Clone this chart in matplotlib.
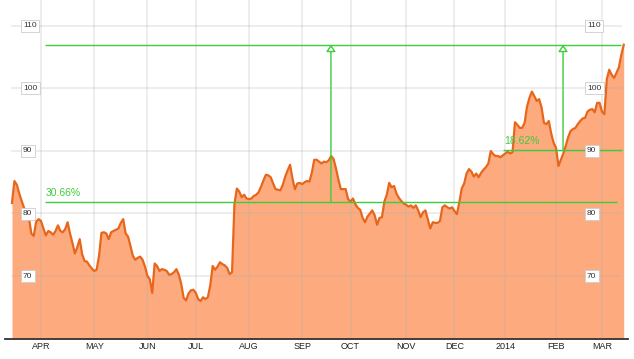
import matplotlib
matplotlib.use("Agg")
import matplotlib.pyplot as plt

plt.rcParams['font.family'] = ['Liberation Sans', 'DejaVu Sans']

# daily closes, one per trading day, mid-Mar 2013 -> mid-Mar 2014
prices = [
    81.7, 85.2, 84.6, 83.2, 82.0, 80.9, 80.0, 79.3, 76.8, 76.4,
    78.7, 79.1, 78.8, 77.6, 76.5, 77.2, 77.0, 76.6, 77.2, 78.1,
    77.2, 77.0, 77.5, 78.6, 76.8, 75.3, 73.6, 74.6, 75.9, 73.5,
    72.4, 72.3, 71.7, 71.2, 70.8, 71.0, 73.2, 76.9, 77.0, 76.8,
    75.9, 77.0, 77.2, 77.4, 77.6, 78.5, 79.1, 76.8, 76.3, 74.8,
    73.2, 72.6, 72.9, 73.1, 72.6, 71.5, 70.0, 69.5, 67.3, 72.0,
    71.6, 70.8, 71.1, 71.0, 70.8, 70.2, 70.3, 70.6, 71.1, 70.2,
    68.7, 66.5, 66.1, 67.2, 67.7, 67.8, 67.3, 66.3, 66.0, 66.6,
    66.3, 66.6, 68.5, 71.6, 71.0, 71.5, 72.2, 71.9, 71.7, 71.3,
    70.3, 70.6, 81.5, 84.0, 83.5, 82.6, 83.0, 82.4, 82.3, 82.4,
    82.8, 83.0, 83.4, 84.3, 85.3, 86.2, 86.1, 85.8, 84.8, 83.9,
    83.8, 83.7, 84.6, 85.9, 86.9, 87.8, 85.6, 83.9, 84.8, 84.9,
    84.7, 85.0, 85.2, 85.1, 86.5, 88.6, 88.6, 88.3, 88.0, 88.3,
    88.2, 88.5, 89.2, 88.7, 87.2, 85.4, 83.9, 83.9, 83.9, 82.3,
    81.9, 82.4, 81.5, 80.9, 80.6, 79.3, 78.6, 79.5, 80.0, 80.5,
    79.7, 78.2, 79.3, 79.4, 81.9, 83.0, 84.9, 84.2, 84.4, 83.2,
    82.5, 82.0, 81.6, 81.4, 81.1, 81.3, 80.9, 81.3, 80.5, 79.4,
    80.2, 80.5, 79.0, 77.6, 78.6, 78.5, 78.5, 78.8, 81.0, 81.3,
    81.0, 80.8, 81.0, 80.4, 79.9, 81.8, 84.0, 84.8, 86.4, 87.1,
    86.7, 85.9, 86.4, 85.8, 86.5, 87.0, 87.4, 88.0, 90.0, 89.5,
    89.2, 89.2, 89.0, 89.3, 89.6, 89.9, 89.6, 89.8, 94.6, 94.2,
    93.7, 93.7, 94.5, 97.1, 98.5, 99.5, 98.8, 98.0, 98.3, 97.0,
    94.5, 94.3, 94.8, 92.8, 91.3, 90.5, 87.6, 88.6, 89.6, 90.8,
    92.2, 93.2, 93.5, 93.7, 94.3, 94.8, 95.2, 95.3, 96.3, 96.6,
    96.7, 96.2, 97.7, 97.7, 96.3, 95.9, 101.5, 103.0, 102.2, 101.7,
    102.5, 103.4, 105.4, 107.0,
]
days = list(range(len(prices)))

month_labels = ['APR', 'MAY', 'JUN', 'JUL', 'AUG', 'SEP', 'OCT', 'NOV', 'DEC', '2014', 'FEB', 'MAR']
month_start_idx = [12, 34, 56, 76, 98, 120, 140, 163, 183, 204, 225, 244]
y_ticks = [70, 80, 90, 100, 110]

# gain markers: (low level, x of arrow, x where low line starts, x where it ends, label)
gains = [
    (81.9, 131.9, 13.6, 250.2, '30.66%'),
    (90.2, 227.9, 203.1, 252.3, '18.62%'),
]
top_level = prices[-1]

fill_c = '#fcaa7e'
line_c = '#e8661b'
green = '#3ccc3c'

fig = plt.figure(figsize=(6.34, 3.59), dpi=100)
ax = fig.add_axes([0, 20 / 359, 1, 339 / 359])
ymin, ymax = 59.92, 114.16
ax.set_xlim(-4.96, 257.24)
ax.set_ylim(ymin, ymax)

ax.fill_between(days, prices, ymin, color=fill_c, lw=0, zorder=1)
ax.plot(days, prices, color=line_c, lw=1.6, zorder=3, solid_joinstyle='round')

for xi in month_start_idx:
    ax.axvline(xi, color='#b0b0b0', alpha=0.25, lw=1.3, zorder=2)
for yv in y_ticks:
    ax.hlines(yv, -0.6, 252.3, color='#b0b0b0', alpha=0.25, lw=1.3, zorder=2)

# bottom axis line
ax.plot([5 / 634, 628 / 634], [0, 0], transform=ax.transAxes, color='#333333',
        lw=1.3, clip_on=False, zorder=4)

# green gain annotations
ax.hlines(top_level, 13.6, 251.9, color=green, lw=1, zorder=4)
for low, xa, x0, x1, lab in gains:
    ax.hlines(low, x0, x1, color=green, lw=1, zorder=4)
    ax.annotate('', xy=(xa, top_level), xytext=(xa, low),
                arrowprops=dict(arrowstyle='-|>,head_length=0.4,head_width=0.28',
                                fc='white', ec=green, lw=1, shrinkA=0, shrinkB=0),
                zorder=5)
    ax.text(x0 + 0.5, low + 0.55, lab, color=green, fontsize=7.5, ha='left', va='bottom', zorder=5)

# boxed y labels on both sides
ytrans = ax.get_yaxis_transform()
for yv in y_ticks:
    for xf in (23 / 634, 587 / 634):
        ax.text(xf, yv, str(yv), transform=ytrans, fontsize=6, color='#333333',
                ha='left', va='center', zorder=6,
                bbox=dict(boxstyle='square,pad=0.3', fc='white', ec='#cccccc', lw=0.6))

ax.set_xticks(month_start_idx)
ax.set_xticklabels(month_labels)
ax.tick_params(axis='x', length=0, pad=2.5, labelsize=6.5, labelcolor='#222222')
ax.set_yticks([])
for s in ax.spines.values():
    s.set_visible(False)

fig.savefig('out.png', dpi=100)
